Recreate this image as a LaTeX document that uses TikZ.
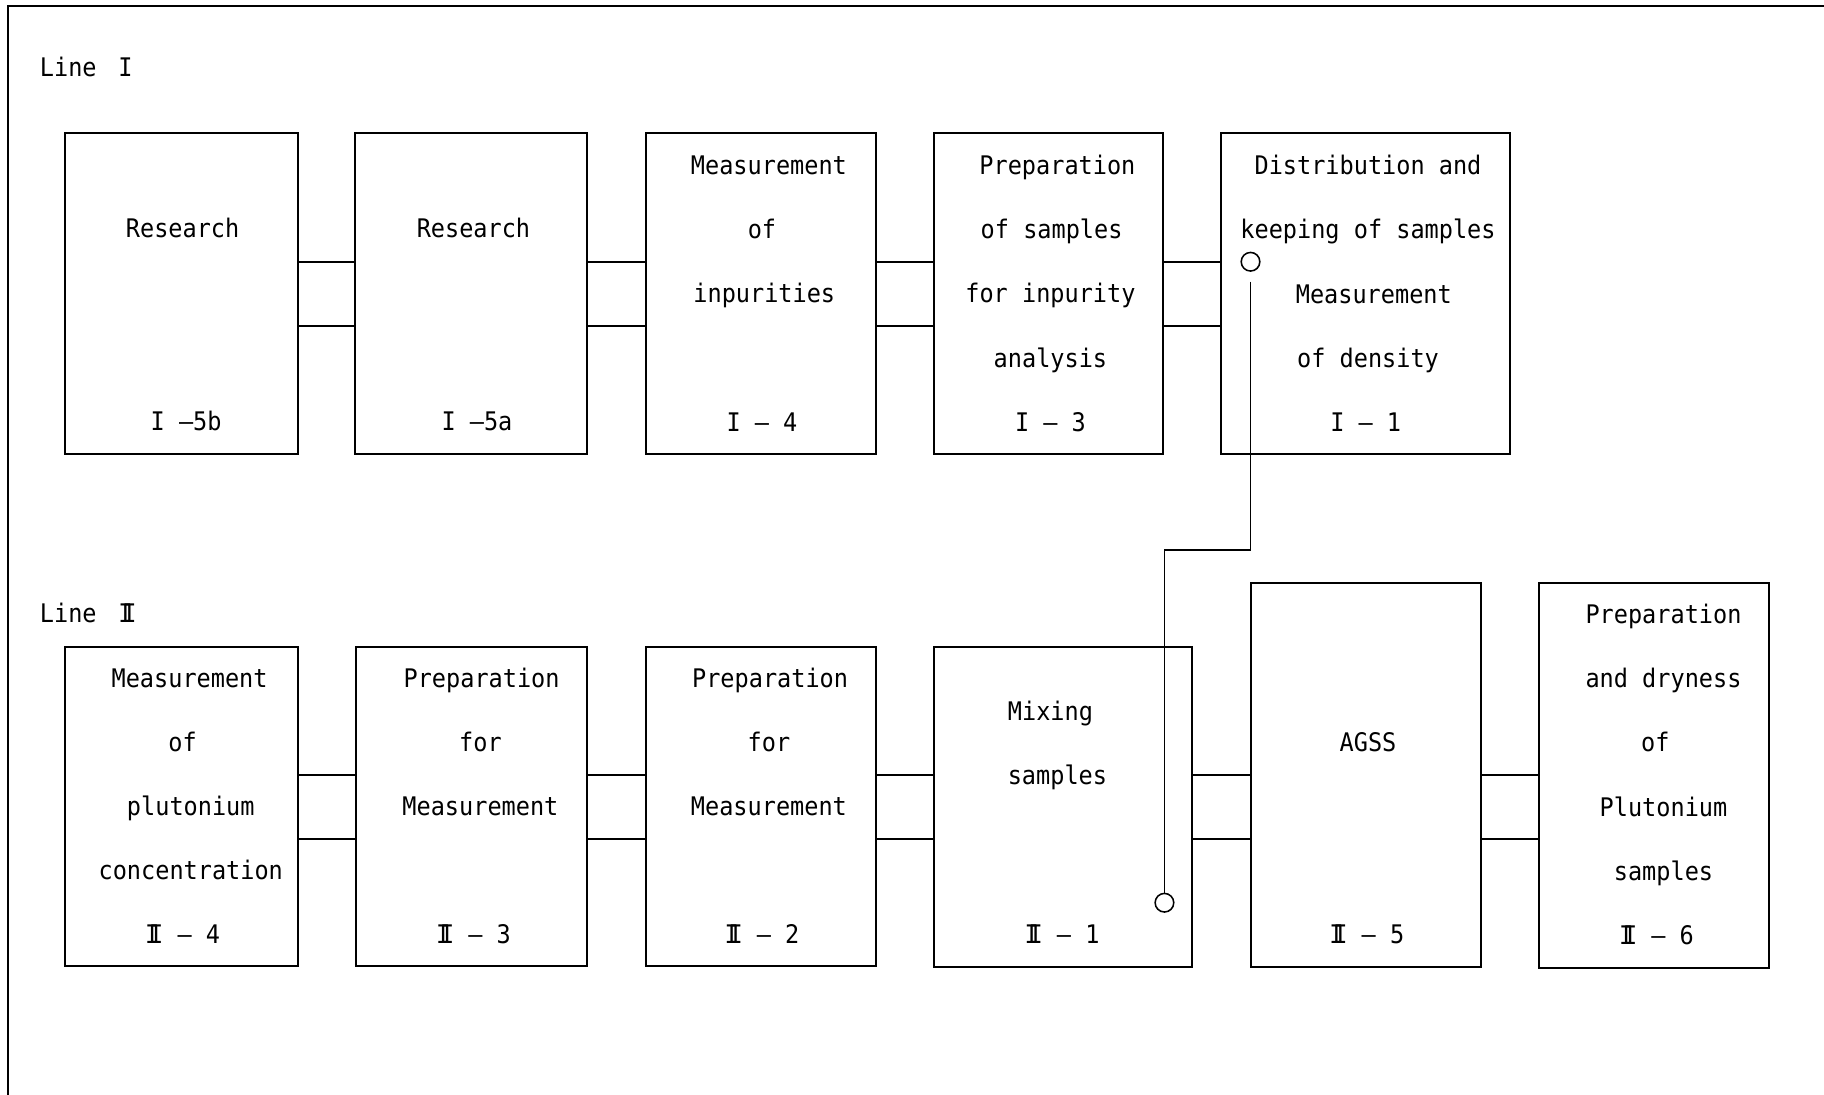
\documentclass[tikz,border=0pt]{standalone}
\usepackage{fontspec}
\usetikzlibrary{fit}
\newfontfamily\diagmono[FakeStretch=0.92]{DejaVu Sans Mono}
\newcommand\RomI{I}
\newcommand\RomII{I\kern-0.40em I}
\tikzset{
  boxnode/.style={draw, line width=1pt, inner sep=0pt},
  txt/.style={font=\diagmono\fontsize{13.2}{15}\selectfont, inner sep=0pt, anchor=base},
  conn/.style={line width=0.8pt},
  ring/.style={draw, circle, line width=0.8pt, minimum size=9.6pt, inner sep=0pt}
}
\begin{document}
\begin{tikzpicture}[x=0.6pt,y=-0.6pt]
\useasboundingbox (0,0) rectangle (1568,941);
% frame
\draw[line width=0.8pt] (1568,5) -- (7,5) -- (7,941);

% ---------- Line I ----------
\node[txt, anchor=base west] (l1) at (34,66) {Line\hspace{0.85em}\RomI};
\node[boxnode, fit={(56,114) (256,390)}] (a1) {};
\node[boxnode, fit={(305,114) (505,390)}] (a2) {};
\node[boxnode, fit={(555,114) (753,390)}] (a3) {};
\node[boxnode, fit={(803,114) (1000,390)}] (a4) {};
\node[boxnode, fit={(1050,114) (1298,390)}] (a5) {};

\node[txt] (a1t1) at (157,204) {Research};
\node[txt] (a1t2) at (160,370) {\RomI\ —5b};
\node[txt] (a2t1) at (407,204) {Research};
\node[txt] (a2t2) at (410,370) {\RomI\ —5a};
\node[txt] (a3t1) at (661,150) {Measurement};
\node[txt] (a3t2) at (655,205) {of};
\node[txt] (a3t3) at (657,260) {inpurities};
\node[txt] (a3t4) at (655,371) {\RomI\ — 4};
\node[txt] (a4t1) at (909,150) {Preparation};
\node[txt] (a4t2) at (904,205) {of samples};
\node[txt] (a4t3) at (903,260) {for inpurity};
\node[txt] (a4t4) at (903,316) {analysis};
\node[txt] (a4t5) at (903,371) {\RomI\ — 3};
\node[txt] (a5t1) at (1176,150) {Distribution and};
\node[txt] (a5t2) at (1176,205) {keeping of samples};
\node[txt] (a5t3) at (1181,261) {Measurement};
\node[txt] (a5t4) at (1176,316) {of density};
\node[txt] (a5t5) at (1174,371) {\RomI\ — 1};

\coordinate (r1a) at (0,225);
\coordinate (r1b) at (0,280);
\foreach \p/\q in {a1/a2,a2/a3,a3/a4,a4/a5}{
  \draw[conn] (\p.east |- r1a) -- (\q.west |- r1a);
  \draw[conn] (\p.east |- r1b) -- (\q.west |- r1b);
}

% ---------- Line II ----------
\node[txt, anchor=base west] (l2) at (34,535) {Line\hspace{0.85em}\RomII};
\node[boxnode, fit={(56,556) (256,830)}] (b1) {};
\node[boxnode, fit={(306,556) (505,830)}] (b2) {};
\node[boxnode, fit={(555,556) (753,830)}] (b3) {};
\node[boxnode, fit={(803,556) (1025,831)}] (b4) {};
\node[boxnode, fit={(1075,501) (1273,831)}] (b5) {};
\node[boxnode, fit={(1323,501) (1521,832)}] (b6) {};

\node[txt] (b1t1) at (163,591) {Measurement};
\node[txt] (b1t2) at (157,646) {of};
\node[txt] (b1t3) at (164,701) {plutonium};
\node[txt] (b1t4) at (164,756) {concentration};
\node[txt] (b1t5) at (157,811) {\RomII\ — 4};
\node[txt] (b2t1) at (414,591) {Preparation};
\node[txt] (b2t2) at (413,646) {for};
\node[txt] (b2t3) at (413,701) {Measurement};
\node[txt] (b2t4) at (407,811) {\RomII\ — 3};
\node[txt] (b3t1) at (662,591) {Preparation};
\node[txt] (b3t2) at (661,646) {for};
\node[txt] (b3t3) at (661,701) {Measurement};
\node[txt] (b3t4) at (655,811) {\RomII\ — 2};
\node[txt] (b4t1) at (903,619) {Mixing};
\node[txt] (b4t2) at (909,674) {samples};
\node[txt] (b4t3) at (913,811) {\RomII\ — 1};
\node[txt] (b5t1) at (1176,646) {AGSS};
\node[txt] (b5t2) at (1175,811) {\RomII\ — 5};
\node[txt] (b6t1) at (1430,536) {Preparation};
\node[txt] (b6t2) at (1430,591) {and dryness};
\node[txt] (b6t3) at (1423,646) {of};
\node[txt] (b6t4) at (1430,702) {Plutonium};
\node[txt] (b6t5) at (1430,757) {samples};
\node[txt] (b6t6) at (1424,812) {\RomII\ — 6};

\coordinate (r2a) at (0,666);
\coordinate (r2b) at (0,721);
\foreach \p/\q in {b1/b2,b2/b3,b3/b4,b4/b5,b5/b6}{
  \draw[conn] (\p.east |- r2a) -- (\q.west |- r2a);
  \draw[conn] (\p.east |- r2b) -- (\q.west |- r2b);
}

% ---------- link between lines ----------
\node[ring] (c1) at (1075,225) {};
\node[ring] (c2) at (1001,776) {};
\coordinate (k1) at (1075,473);
\coordinate (k2) at (1001,473);
\draw[conn] ([yshift=-5pt]c1.south) -- (k1) -- (k2) -- (c2.north);
\end{tikzpicture}
\end{document}
